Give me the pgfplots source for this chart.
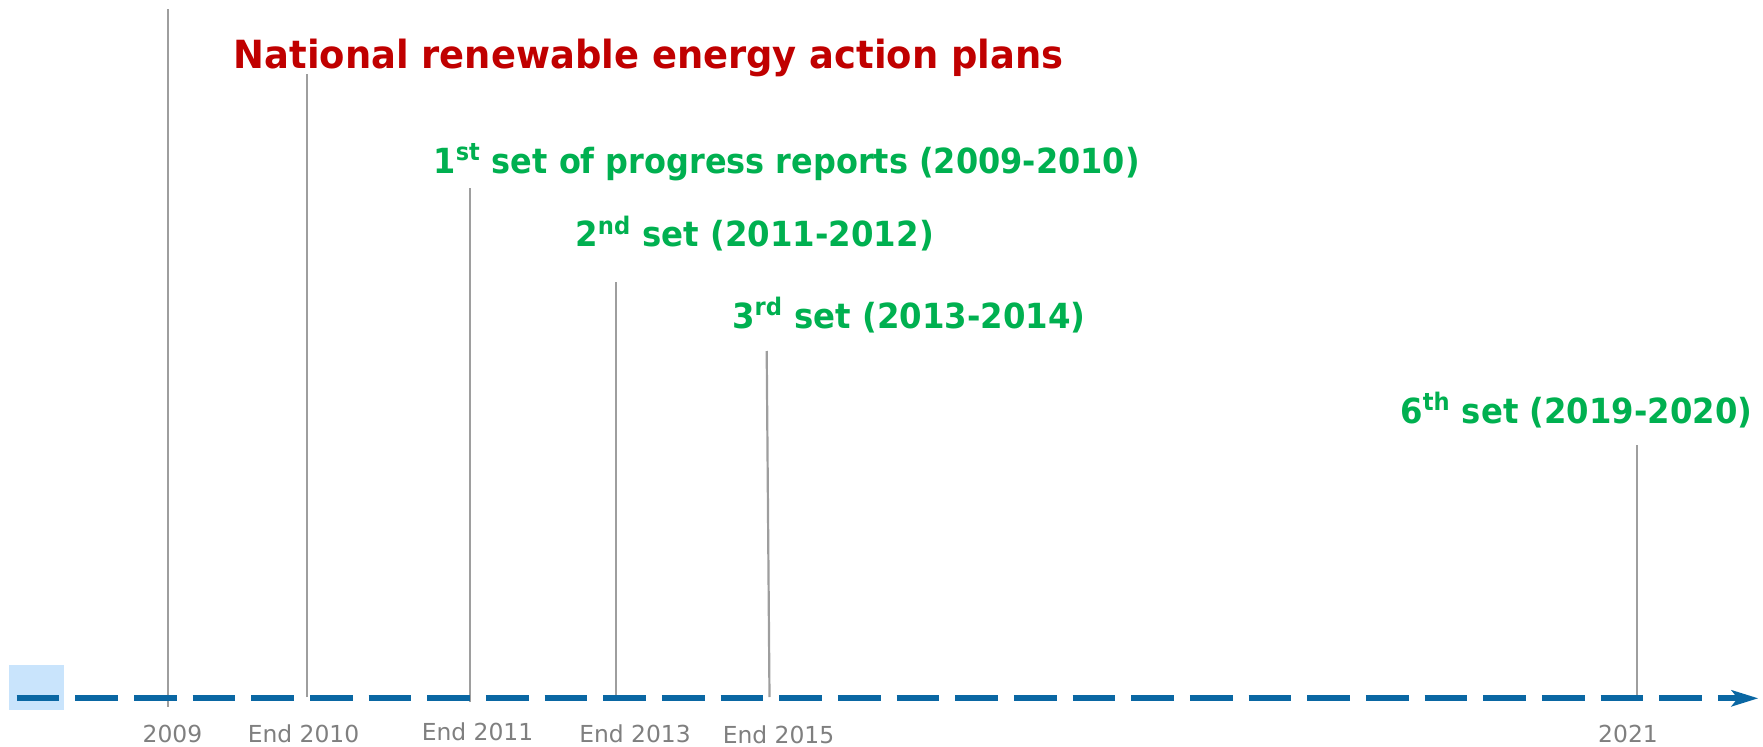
\documentclass[border=0pt]{standalone}
\usepackage{pgfplots}
\pgfplotsset{compat=1.18}
\usepackage{fontspec}
\setmainfont{DejaVu Sans}
\usetikzlibrary{arrows.meta}
\definecolor{tlblue}{HTML}{0A67A3}
\definecolor{boxblue}{HTML}{C9E4FC}
\definecolor{vgray}{HTML}{9E9E9E}
\definecolor{lgray}{HTML}{7F7F7F}
\definecolor{titlered}{HTML}{C00000}
\definecolor{setgreen}{HTML}{00B050}
\newcommand{\titlefont}{\fontsize{19.4pt}{22pt}\selectfont\bfseries}
\newcommand{\setfont}{\fontsize{17.3pt}{20pt}\selectfont\bfseries}
\newcommand{\labfont}{\fontsize{11.7pt}{13pt}\selectfont}
\begin{document}
\begin{tikzpicture}
\begin{axis}[
  width=881.5pt, height=373pt, scale only axis,
  xmin=0, xmax=1763, ymin=0, ymax=746,
  hide axis, clip=false,
]
% highlighted start box
\addplot[draw=none, fill=boxblue] coordinates {(9,36) (64,36) (64,81) (9,81)} -- cycle;
% vertical milestone lines
\addplot[vgray, line width=1.1pt] coordinates {(168.3,39.3) (168.3,737)};
\addplot[vgray, line width=1.1pt] coordinates {(307.3,49) (307.3,672)};
\addplot[vgray, line width=1.1pt] coordinates {(470,44) (470,557.7)};
\addplot[vgray, line width=1.1pt] coordinates {(616,48) (616,463.7)};
\addplot[vgray, line width=1.1pt] coordinates {(769.5,49) (766.7,395)};
\addplot[vgray, line width=1.1pt] coordinates {(1636.7,46) (1636.7,301)};
% timeline
\addplot[tlblue, line width=3pt, line cap=butt, dash pattern=on 21.33pt off 8pt,
  -{Stealth[length=13.3pt, width=8pt, inset=3pt]}] coordinates {(16.7,47.7) (1758.3,47.7)};
% texts
\node[anchor=base west, inner sep=0pt, text=titlered] at (axis cs:233.3,677.7)
  {\resizebox{414.8pt}{\height}{\titlefont National renewable energy action plans}};
\node[anchor=base west, inner sep=0pt, text=setgreen] at (axis cs:433.3,572.7)
  {\resizebox{353pt}{\height}{\setfont 1\textsuperscript{st} set of progress reports (2009-2010)}};
\node[anchor=base west, inner sep=0pt, text=setgreen] at (axis cs:575,499.3)
  {\resizebox{179.2pt}{\height}{\setfont 2\textsuperscript{nd} set (2011-2012)}};
\node[anchor=base west, inner sep=0pt, text=setgreen] at (axis cs:731.7,417.7)
  {\resizebox{176.7pt}{\height}{\setfont 3\textsuperscript{rd} set (2013-2014)}};
\node[anchor=base west, inner sep=0pt, text=setgreen] at (axis cs:1400,322.7)
  {\resizebox{176pt}{\height}{\setfont 6\textsuperscript{th} set (2019-2020)}};
% bottom labels
\node[anchor=base, inner sep=0pt, text=lgray] at (axis cs:172.5,3.3) {\labfont 2009};
\node[anchor=base, inner sep=0pt, text=lgray] at (axis cs:303.5,3.3) {\labfont End 2010};
\node[anchor=base, inner sep=0pt, text=lgray] at (axis cs:477.5,5.3) {\labfont End 2011};
\node[anchor=base, inner sep=0pt, text=lgray] at (axis cs:635,3.3) {\labfont End 2013};
\node[anchor=base, inner sep=0pt, text=lgray] at (axis cs:778.5,2.5) {\labfont End 2015};
\node[anchor=base, inner sep=0pt, text=lgray] at (axis cs:1628,3.3) {\labfont 2021};
\end{axis}
\pgfresetboundingbox
\useasboundingbox (current axis.south west) rectangle (current axis.north east);
\end{tikzpicture}
\end{document}
